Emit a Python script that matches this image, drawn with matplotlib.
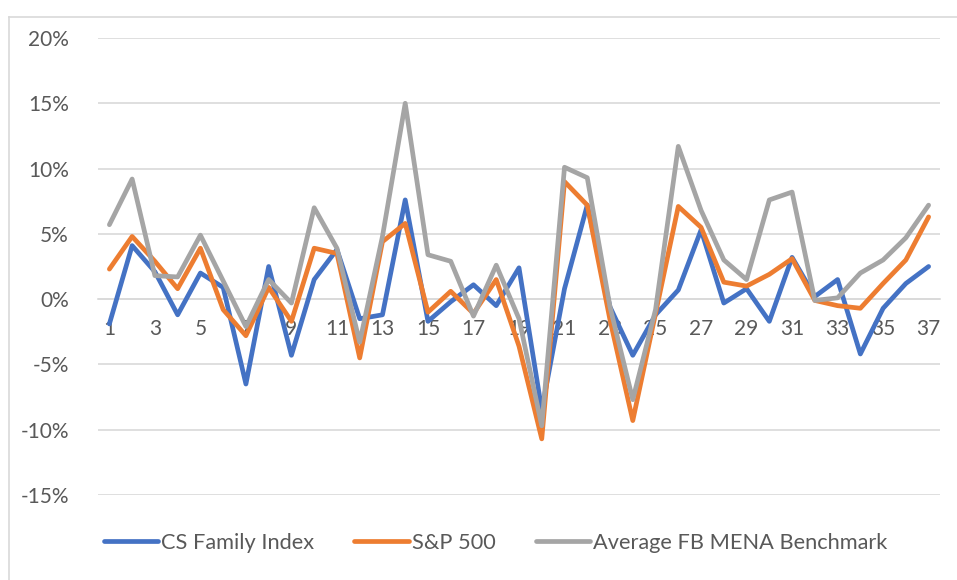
import matplotlib
matplotlib.use('Agg')
import matplotlib.pyplot as plt
from matplotlib.lines import Line2D
from matplotlib.ticker import FuncFormatter

# Data (monthly returns, %)
periods = list(range(1, 38))
cs_family = [-1.9, 4.1, 2.1, -1.2, 2.0, 0.9, -6.5, 2.5, -4.3, 1.5,
             3.8, -1.5, -1.2, 7.6, -1.7, -0.2, 1.1, -0.5, 2.4, -8.5,
             0.8, 7.2, -0.6, -4.3, -1.2, 0.7, 5.3, -0.3, 0.8, -1.7,
             3.2, 0.2, 1.5, -4.2, -0.7, 1.2, 2.5]
sp500 = [2.3, 4.8, 2.9, 0.8, 3.9, -0.8, -2.8, 0.9, -1.7, 3.9,
         3.5, -4.5, 4.4, 5.8, -1.0, 0.6, -1.1, 1.5, -3.6, -10.7,
         9.0, 7.2, -1.6, -9.3, -1.1, 7.1, 5.5, 1.3, 1.0, 1.9,
         3.1, -0.1, -0.5, -0.7, 1.2, 3.0, 6.3]
fb_mena = [5.7, 9.2, 1.8, 1.7, 4.9, 1.4, -2.1, 1.5, -0.3, 7.0,
           3.9, -3.3, 4.8, 15.0, 3.4, 2.9, -1.3, 2.6, -1.5, -9.7,
           10.1, 9.3, -0.6, -7.7, -0.8, 11.7, 6.8, 3.0, 1.5, 7.6,
           8.2, -0.1, 0.1, 2.0, 3.0, 4.7, 7.2]

series_names = ['CS Family Index', 'S&P 500', 'Average FB MENA Benchmark']
series_colors = ['#4472C4', '#ED7D31', '#A5A5A5']

plt.rcParams['font.family'] = ['Lato', 'DejaVu Sans']
text_color = '#595959'
grid_color = '#D9D9D9'

fig = plt.figure(figsize=(9.57, 5.8), dpi=100)
fig.patch.set_facecolor('white')
ax = fig.add_axes([98 / 957, 85 / 580, 842 / 957, 457 / 580])

for vals, name, col in zip([cs_family, sp500, fb_mena], series_names, series_colors):
    ax.plot(periods, vals, color=col, linewidth=3.4, label=name,
            solid_joinstyle='round', solid_capstyle='round')

ax.set_xlim(0.5, 37.5)
ax.set_ylim(-15, 20)
ax.set_yticks(range(-15, 21, 5))
ax.yaxis.set_major_formatter(FuncFormatter(lambda v, p: f'{int(v)}%'))
ax.set_xticks(periods[::2])
ax.grid(axis='y', color=grid_color, linewidth=1.2)
ax.set_axisbelow(True)

for s in ['top', 'right', 'left']:
    ax.spines[s].set_visible(False)
ax.spines['bottom'].set_position(('data', 0))
ax.spines['bottom'].set_color(grid_color)
ax.spines['bottom'].set_linewidth(1.2)
ax.spines['bottom'].set_zorder(0)

ax.tick_params(axis='x', length=0, pad=14, labelsize=15, labelcolor=text_color)
ax.tick_params(axis='y', length=0, pad=21, labelsize=15, labelcolor=text_color)

ax.legend(loc='center', bbox_to_anchor=(0.472, -0.105), ncol=3, frameon=False,
          fontsize=15.7, labelcolor=text_color, handlelength=2.5,
          handletextpad=0.12, columnspacing=1.85)

# Light chart-area border (top and left edges visible)
fig.add_artist(Line2D([9 / 957, 9 / 957], [0, 1 - 17 / 580], color=grid_color,
                      linewidth=1.2, transform=fig.transFigure))
fig.add_artist(Line2D([9 / 957, 1], [1 - 17 / 580, 1 - 17 / 580], color=grid_color,
                      linewidth=1.2, transform=fig.transFigure))

fig.savefig('out.png', dpi=100, facecolor='white')
plt.close(fig)
